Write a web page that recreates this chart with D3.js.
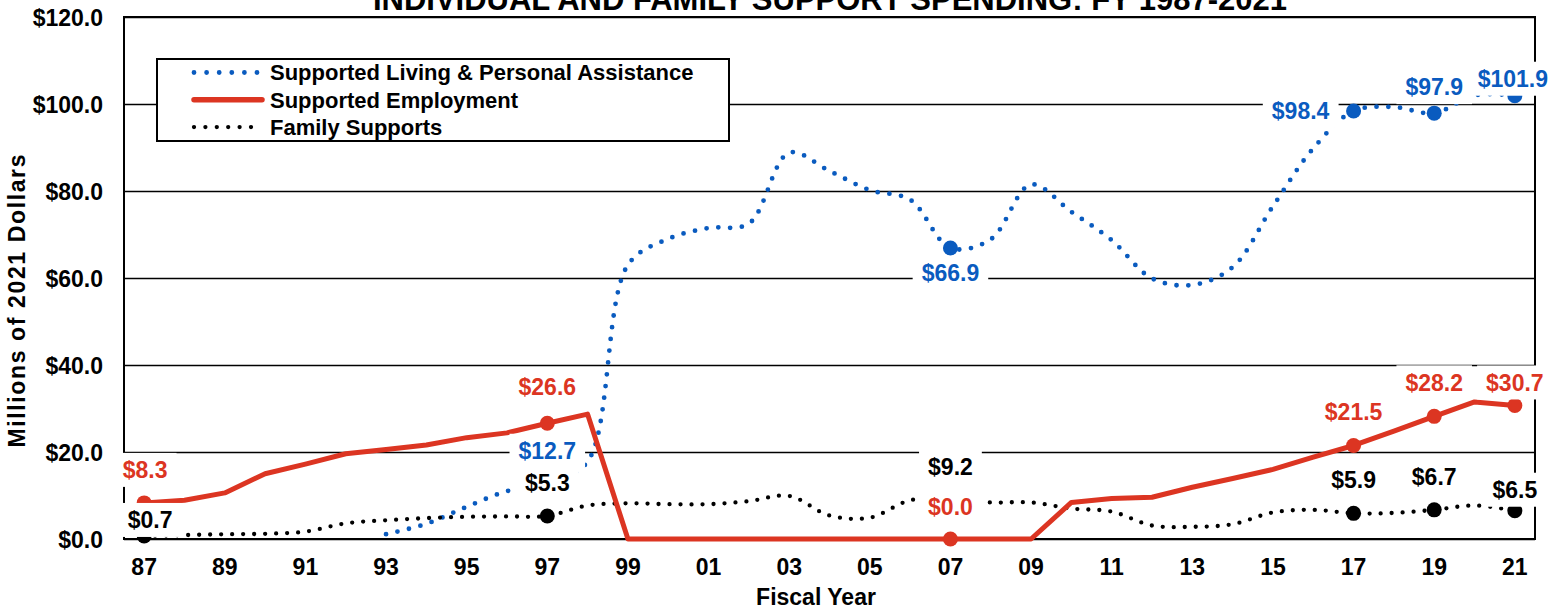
<!DOCTYPE html>
<html>
<head>
<meta charset="utf-8">
<script src="https://cdn.jsdelivr.net/npm/d3@7"></script>
<style>
  html, body { margin: 0; padding: 0; background: #fff; }
  svg { display: block; }
  text { font-family: "Liberation Sans", Arial, sans-serif; font-weight: bold; }
</style>
</head>
<body>
<svg id="chart" width="1564" height="612"></svg>
<script>
// ---------- DATA ----------
const years = ["87","88","89","90","91","92","93","94","95","96","97","98","99","00","01","02","03","04",
               "05","06","07","08","09","10","11","12","13","14","15","16","17","18","19","20","21"];
const supportedLiving = [null,null,null,null,null,null,1.1,3.5,7.4,11.0,12.7,17.8,63.0,69.0,71.5,72.5,88.8,84.6,
                         80.2,78.0,66.9,68.9,81.5,75.2,68.7,59.9,58.4,62.5,76.5,89.8,98.4,99.3,97.9,102.0,101.9];
const supportedEmployment = [8.3,8.9,10.6,15.0,17.2,19.6,20.6,21.6,23.3,24.4,26.6,28.7,0,0,0,0,0,0,
                             0,0,0,0,0,8.4,9.3,9.6,11.9,13.9,16.0,18.8,21.5,24.8,28.2,31.5,30.7];
const familySupports = [0.7,0.9,1.1,1.2,1.7,3.6,4.3,4.8,5.1,5.2,5.3,7.7,8.2,8.0,8.0,8.7,9.9,5.4,
                        4.9,8.9,9.2,8.4,8.4,7.0,6.3,3.1,2.8,3.4,6.1,6.7,5.9,6.0,6.7,7.7,6.5];
const yTicks = [0,20,40,60,80,100,120];
const xTickLabels = ["87","89","91","93","95","97","99","01","03","05","07","09","11","13","15","17","19","21"];
const labeledYears = ["87","97","07","17","19","21"];
const seriesNames = ["Supported Living & Personal Assistance","Supported Employment","Family Supports"];
const titleText = "INDIVIDUAL AND FAMILY SUPPORT SPENDING: FY 1987-2021";

// ---------- LAYOUT ----------
const svg = d3.select("#chart");
const L = 124, R = 1535, T = 17, B = 539;
const BLUE = "#0a5bbf", RED = "#dc3522", BLACK = "#000";

const x = d3.scaleBand().domain(years).range([L, R]).padding(0);
const cx = d => x(d) + x.bandwidth() / 2;
const y = d3.scaleLinear().domain([0, 120]).range([B, T]);

// Title (partially cut off at top)
svg.append("text").attr("x", 830).attr("y", 10).attr("text-anchor", "middle")
  .attr("font-size", 31).text(titleText);

// Y axis with gridlines
const yAxis = svg.append("g").attr("transform", `translate(${L},0)`)
  .call(d3.axisLeft(y).tickValues(yTicks).tickFormat(d => "$" + d.toFixed(1))
        .tickSize(-(R - L)).tickPadding(21));
yAxis.select(".domain").remove();
yAxis.selectAll(".tick line").attr("stroke", "#000").attr("stroke-width", 1.6);
yAxis.selectAll(".tick text").attr("font-size", 23).attr("fill", "#000")
  .attr("font-family", "Liberation Sans, Arial, sans-serif").attr("font-weight", "bold")
  .attr("dy", "0.36em");

// Frame
svg.append("rect").attr("x", L).attr("y", T).attr("width", R - L).attr("height", B - T)
  .attr("fill", "none").attr("stroke", "#000").attr("stroke-width", 2);

// X axis labels
const xAxis = svg.append("g").attr("transform", `translate(0,${B})`)
  .call(d3.axisBottom(x).tickValues(xTickLabels).tickSize(0).tickPadding(20));
xAxis.select(".domain").remove();
xAxis.selectAll(".tick text").attr("font-size", 23).attr("fill", "#000")
  .attr("font-family", "Liberation Sans, Arial, sans-serif").attr("font-weight", "bold");

// Axis titles
svg.append("text").attr("x", 816).attr("y", 605).attr("text-anchor", "middle")
  .attr("font-size", 23).text("Fiscal Year");
svg.append("text").attr("transform", "translate(25,301) rotate(-90)")
  .attr("text-anchor", "middle").attr("font-size", 23)
  .attr("textLength", 293).attr("lengthAdjust", "spacing")
  .text("Millions of 2021 Dollars");

// Lines
const mk = arr => years.map((yr, i) => ({ yr, v: arr[i] }));
const smooth = d3.line().defined(d => d.v != null).x(d => cx(d.yr)).y(d => y(d.v))
  .curve(d3.curveCatmullRom.alpha(0.5));
const straight = d3.line().defined(d => d.v != null).x(d => cx(d.yr)).y(d => y(d.v));

const blueData = mk(supportedLiving), redData = mk(supportedEmployment), blackData = mk(familySupports);

svg.append("path").datum(blueData).attr("d", smooth).attr("fill", "none")
  .attr("stroke", BLUE).attr("stroke-width", 4.8).attr("stroke-linecap", "round")
  .attr("stroke-dasharray", "0 11.8");
svg.append("path").datum(blackData).attr("d", smooth).attr("fill", "none")
  .attr("stroke", BLACK).attr("stroke-width", 4.3).attr("stroke-linecap", "round")
  .attr("stroke-dasharray", "0 11");
svg.append("path").datum(redData).attr("d", straight).attr("fill", "none")
  .attr("stroke", RED).attr("stroke-width", 5).attr("stroke-linejoin", "round");

// Markers
function markers(data, color) {
  svg.append("g").selectAll("circle").data(data.filter(d => labeledYears.includes(d.yr) && d.v != null))
    .join("circle").attr("cx", d => cx(d.yr)).attr("cy", d => y(d.v)).attr("r", 7.5).attr("fill", color);
}
markers(blueData, BLUE);
markers(blackData, BLACK);
markers(redData, RED);

// Data labels (offsets of text centre from marker)
const blueOff = { "97": [0, -33], "07": [0, 25], "17": [-53, 0], "19": [0, -26], "21": [-2, -17] };
const redOff = { "87": [1, -33], "97": [0, -37], "07": [0, -32], "17": [0, -34], "19": [0, -34], "21": [0, -23] };
const blackOff = { "87": [6, -16], "97": [0, -33], "07": [0, -32], "17": [0, -34], "19": [0, -33], "21": [0, -21] };

function labels(data, offs, color) {
  data.forEach(d => {
    const o = offs[d.yr];
    if (!o || d.v == null) return;
    const g = svg.append("g");
    const tx = cx(d.yr) + o[0], ty = y(d.v) + o[1];
    const rect = g.append("rect").attr("fill", "#fff");
    const t = g.append("text").attr("x", tx).attr("y", ty).attr("dy", "0.36em")
      .attr("text-anchor", "middle").attr("font-size", 23).attr("fill", color)
      .text("$" + d.v.toFixed(1));
    const bb = t.node().getBBox();
    rect.attr("x", bb.x - 9).attr("y", ty - 17).attr("width", bb.width + 18).attr("height", 34);
  });
}
labels(blackData, blackOff, BLACK);
labels(blueData, blueOff, BLUE);
labels(redData, redOff, RED);

// Legend
const lg = svg.append("g");
lg.append("rect").attr("x", 157).attr("y", 59).attr("width", 572).attr("height", 82)
  .attr("fill", "#fff").attr("stroke", "#000").attr("stroke-width", 2);
const legendStyles = [
  { color: BLUE, w: 4.8, dash: "0 12.6", cap: "round" },
  { color: RED, w: 5.5, dash: null, cap: "round" },
  { color: BLACK, w: 4.3, dash: "0 11.4", cap: "round" }
];
seriesNames.forEach((name, i) => {
  const ly = 72.5 + i * 27.3;
  const s = legendStyles[i];
  const ln = lg.append("line").attr("x1", 194).attr("x2", 262).attr("y1", ly).attr("y2", ly)
    .attr("stroke", s.color).attr("stroke-width", s.w).attr("stroke-linecap", s.cap);
  if (s.dash) ln.attr("stroke-dasharray", s.dash);
  lg.append("text").attr("x", 270).attr("y", ly).attr("dy", "0.36em").attr("font-size", 22)
    .attr("fill", "#000").text(name);
});
</script>
</body>
</html>
